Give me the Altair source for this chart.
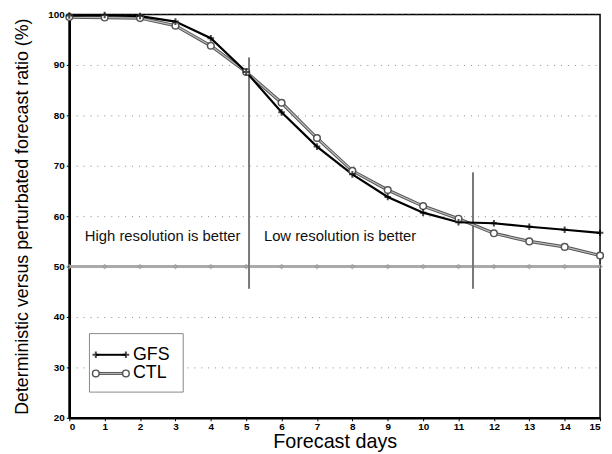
import altair as alt
import pandas as pd

days = list(range(16))
gfs = [99.8, 99.9, 99.7, 98.6, 95.3, 88.6, 80.6, 73.8, 68.3, 63.8, 60.7, 58.8, 58.6, 57.9, 57.3, 56.7]
ctl = [99.5, 99.4, 99.3, 97.8, 93.8, 88.6, 82.5, 75.5, 69.0, 65.2, 62.0, 59.5, 56.6, 55.0, 53.9, 52.2]
ref = [50, 50, 50, 50, 50, 50, 50, 50, 50, 50, 50, 50, 50, 50, 50, 50]
x_ticks = list(range(16))
y_ticks = [20, 30, 40, 50, 60, 70, 80, 90, 100]

# dividers (x, y_low, y_high)
div_x = [5.08, 11.41]
div_y1 = [45.6, 45.6]
div_y2 = [91.5, 68.7]

notes = ["High resolution is better", "Low resolution is better"]
note_x = [0.44, 5.5]
note_y = [56.1, 56.1]

# legend (in data coordinates)
leg_names = ["GFS", "CTL"]
leg_y = [32.5, 28.8]
leg_x1 = [0.75, 0.75]
leg_x2 = [1.6, 1.6]
leg_tx = [1.8, 1.8]
leg_box = dict(x=0.57, x2=3.22, y=36.7, y2=25.1)

FONT = "Arial"
PLUS = "M-1,0L1,0M0,-1L0,1"

df = pd.DataFrame({"day": days, "gfs": gfs, "ctl": ctl, "ref": ref})

x_axis = alt.Axis(values=x_ticks, title="Forecast days", grid=False, labelOverlap=False,
                  labelFontSize=10, labelFontWeight="bold", titleFontSize=20,
                  titleFontWeight="normal", titlePadding=0, tickSize=3,
                  domainWidth=2.5, domainColor="black", labelFont=FONT, titleFont=FONT,
                  labelPadding=1, labelColor="black", titleColor="black", tickColor="black")
y_axis = alt.Axis(values=y_ticks, title="Deterministic versus perturbated forecast ratio (%)",
                  grid=True, gridDash=[1, 6], gridColor="#888", gridWidth=1, labelOverlap=False,
                  labelFontSize=10, labelFontWeight="bold", titleFontSize=18,
                  titleFontWeight="normal", titlePadding=17, tickSize=3,
                  domainWidth=2.5, domainColor="black", labelFont=FONT, titleFont=FONT,
                  labelPadding=2, labelColor="black", titleColor="black", tickColor="black")
xs = alt.Scale(domain=[0, 15], nice=False)
ys = alt.Scale(domain=[20, 100], nice=False)


def X(f):
    return alt.X(f, scale=xs, axis=x_axis)


def Y(f):
    return alt.Y(f, scale=ys, axis=y_axis)


base = alt.Chart(df)

ref_line = base.mark_line(color="#aaa", strokeWidth=3).encode(x=X("day:Q"), y=Y("ref:Q"))
ref_pts = base.mark_point(shape="diamond", color="#999", size=18, filled=False, strokeWidth=1.2).encode(
    x=X("day:Q"), y=Y("ref:Q"))

ctl_outer = base.mark_line(color="#555", strokeWidth=3.2).encode(x=X("day:Q"), y=Y("ctl:Q"))
ctl_inner = base.mark_line(color="#bbb", strokeWidth=1.2).encode(x=X("day:Q"), y=Y("ctl:Q"))
ctl_pts = base.mark_point(shape="circle", fill="white", filled=True, size=45,
                          stroke="#555", strokeWidth=1.5, opacity=1).encode(x=X("day:Q"), y=Y("ctl:Q"))

gfs_line = base.mark_line(color="black", strokeWidth=2.2).encode(x=X("day:Q"), y=Y("gfs:Q"))
gfs_pts = base.mark_point(shape=PLUS, color="black", size=45, strokeWidth=2, filled=False).encode(
    x=X("day:Q"), y=Y("gfs:Q"))

ddf = pd.DataFrame({"x": div_x, "y1": div_y1, "y2": div_y2})
dividers = alt.Chart(ddf).mark_rule(color="#777", strokeWidth=2).encode(x=X("x:Q"), y=Y("y1:Q"), y2="y2:Q")

ndf = pd.DataFrame({"t": notes, "x": note_x, "y": note_y})
note_text = alt.Chart(ndf).mark_text(align="left", baseline="middle", fontSize=15, font=FONT,
                                     color="#111").encode(x=X("x:Q"), y=Y("y:Q"), text="t:N")

bdf = pd.DataFrame([leg_box])
leg_rect = alt.Chart(bdf).mark_rect(fill="white", stroke="#888", strokeWidth=1).encode(
    x=X("x:Q"), x2="x2:Q", y=Y("y:Q"), y2="y2:Q")

ldf = pd.DataFrame({"name": leg_names, "y": leg_y, "x1": leg_x1, "x2": leg_x2, "tx": leg_tx})
gl = ldf[ldf.name == "GFS"]
cl = ldf[ldf.name == "CTL"]
leg_gfs_line = alt.Chart(gl).mark_rule(color="black", strokeWidth=2).encode(x=X("x1:Q"), x2="x2:Q", y=Y("y:Q"))
leg_gfs_p1 = alt.Chart(gl).mark_point(shape=PLUS, color="black", size=45, strokeWidth=2).encode(x=X("x1:Q"), y=Y("y:Q"))
leg_gfs_p2 = alt.Chart(gl).mark_point(shape=PLUS, color="black", size=45, strokeWidth=2).encode(x=X("x2:Q"), y=Y("y:Q"))
leg_ctl_outer = alt.Chart(cl).mark_rule(color="#555", strokeWidth=3).encode(x=X("x1:Q"), x2="x2:Q", y=Y("y:Q"))
leg_ctl_inner = alt.Chart(cl).mark_rule(color="#bbb", strokeWidth=1).encode(x=X("x1:Q"), x2="x2:Q", y=Y("y:Q"))
leg_ctl_p1 = alt.Chart(cl).mark_point(shape="circle", fill="white", filled=True, stroke="#555", strokeWidth=1.5,
                                      size=45, opacity=1).encode(x=X("x1:Q"), y=Y("y:Q"))
leg_ctl_p2 = alt.Chart(cl).mark_point(shape="circle", fill="white", filled=True, stroke="#555", strokeWidth=1.5,
                                      size=45, opacity=1).encode(x=X("x2:Q"), y=Y("y:Q"))
leg_text = alt.Chart(ldf).mark_text(align="left", baseline="middle", fontSize=18, font=FONT,
                                    color="black").encode(x=X("tx:Q"), y=Y("y:Q"), text="name:N")

chart = alt.layer(
    ref_line, ref_pts, dividers, note_text,
    ctl_outer, ctl_inner, gfs_line, ctl_pts, gfs_pts,
    leg_rect, leg_gfs_line, leg_gfs_p1, leg_gfs_p2, leg_ctl_outer, leg_ctl_inner,
    leg_ctl_p1, leg_ctl_p2, leg_text
).properties(
    width=537, height=408,
    autosize=alt.AutoSizeParams(type="none"),
    padding={"left": 62, "top": 4, "right": 4, "bottom": 34},
).configure_view(stroke="black", strokeWidth=1.5)

chart.save("out.html", embed_options={"renderer": "svg", "actions": False})
